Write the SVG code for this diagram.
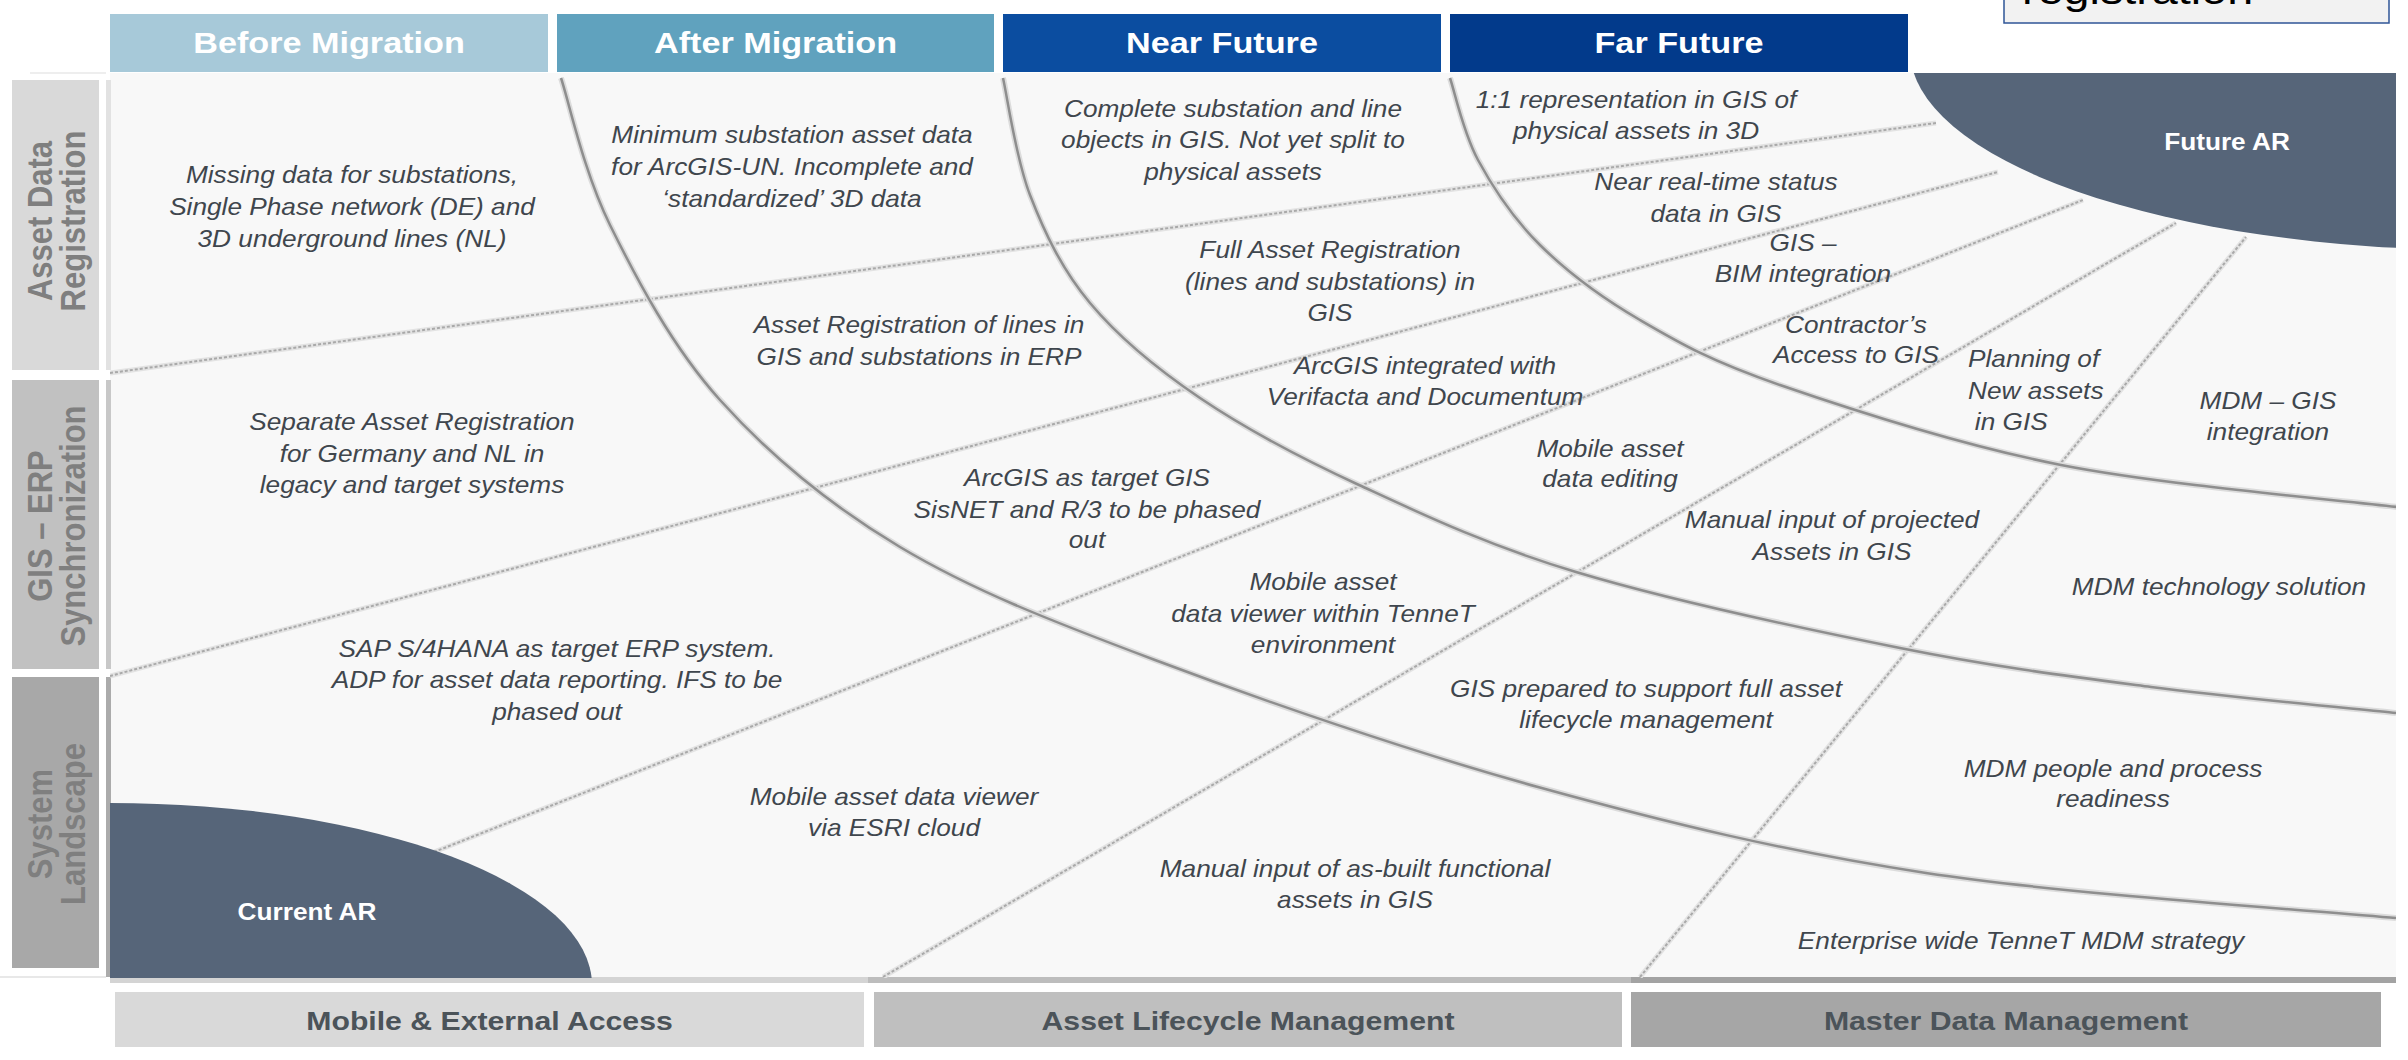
<svg xmlns="http://www.w3.org/2000/svg" width="2408" height="1060" viewBox="0 0 2408 1060">
  <style>
    .hd { font: bold 30px "Liberation Sans", Arial, sans-serif; fill: #ffffff; text-anchor: middle; }
    .rl { font: bold 31px "Liberation Sans", Arial, sans-serif; fill: #7f7f7f; text-anchor: middle; }
    .bt { font: bold 26.5px "Liberation Sans", Arial, sans-serif; fill: #4b5359; text-anchor: middle; }
    .tx { font: italic 23px "Liberation Sans", Arial, sans-serif; fill: #3f464d; text-anchor: middle; }
    .txl { font: italic 23px "Liberation Sans", Arial, sans-serif; fill: #3f464d; text-anchor: start; }
    .ar { font: bold 23px "Liberation Sans", Arial, sans-serif; fill: #ffffff; text-anchor: middle; }
    .blob { fill: #566579; }
    .ray-halo { fill: none; stroke: #e3e3e3; stroke-width: 5; }
    .ray { fill: none; stroke: #a9a9a9; stroke-width: 2; stroke-dasharray: 3 2; }
    .arc-halo { fill: none; stroke: #dcdcdc; stroke-width: 6; }
    .arc { fill: none; stroke: #8e8e8e; stroke-width: 2.5; }
  </style>
  <defs>
    <clipPath id="panelClip">
      <rect x="110" y="73" width="2286" height="905"/>
    </clipPath>
  </defs>

  <rect x="0" y="0" width="2408" height="1060" fill="#ffffff"/>

  <!-- caption box clipped at the top edge -->
  <g id="caption-box">
    <rect x="2004" y="-10" width="385" height="33" fill="#f2f2f2" stroke="#2f5597" stroke-width="1.5"/>
    <text transform="translate(2022 3.5) scale(1.14 1)" x="0" y="0" font-family="'Liberation Sans', Arial, sans-serif" font-size="41" fill="#000000">registration</text>
  </g>

  <!-- main panel -->
  <g id="panel">
    <rect x="110" y="73" width="2286" height="905" fill="#f8f8f8"/>
    <rect x="106" y="80" width="5" height="290" fill="#e2e2e2"/>
    <rect x="106" y="380" width="5" height="289" fill="#c8c8c8"/>
    <rect x="106" y="677" width="5" height="300" fill="#ababab"/>
    <rect x="110" y="977" width="758" height="6" fill="#d4d4d4"/>
    <rect x="868" y="977" width="763" height="6" fill="#bdbdbd"/>
    <rect x="1631" y="977" width="765" height="6" fill="#a3a3a3"/>
    <line x1="30" y1="73" x2="106" y2="73" stroke="#e8e8e8" stroke-width="1.5"/>
    <line x1="0" y1="977" x2="106" y2="977" stroke="#e0e0e0" stroke-width="1.5"/>
  </g>

  <!-- grid: rays and arcs -->
  <g id="connectors" clip-path="url(#panelClip)">
    <g id="rays">
      <path class="ray-halo" d="M110,373 L1936,123"/>
      <path class="ray" d="M110,373 L1936,123"/>
      <path class="ray-halo" d="M110,676 L1998,172"/>
      <path class="ray" d="M110,676 L1998,172"/>
      <path class="ray-halo" d="M434,852 L2083,200"/>
      <path class="ray" d="M434,852 L2083,200"/>
      <path class="ray-halo" d="M883,977 L2176,223"/>
      <path class="ray" d="M883,977 L2176,223"/>
      <path class="ray-halo" d="M1640,977 L2246,237"/>
      <path class="ray" d="M1640,977 L2246,237"/>
    </g>
    <g id="arcs">
      <path class="arc-halo" d="M561,78 C569.2,102.5 583.5,171.3 610,225 C636.5,278.7 671.7,346.3 720,400 C768.3,453.7 827.5,503.7 900,547 C972.5,590.3 1048.7,620 1155,660 C1261.3,700 1409.5,751.5 1538,787 C1666.5,822.5 1783,851.2 1926,873 C2069,894.8 2317.7,910.5 2396,918"/>
      <path class="arc" d="M561,78 C569.2,102.5 583.5,171.3 610,225 C636.5,278.7 671.7,346.3 720,400 C768.3,453.7 827.5,503.7 900,547 C972.5,590.3 1048.7,620 1155,660 C1261.3,700 1409.5,751.5 1538,787 C1666.5,822.5 1783,851.2 1926,873 C2069,894.8 2317.7,910.5 2396,918"/>
      <path class="arc-halo" d="M1003,78 C1007.5,97.5 1015.5,157.5 1030,195 C1044.5,232.5 1061.7,269.2 1090,303 C1118.3,336.8 1155.2,367.7 1200,398 C1244.8,428.3 1296.3,456 1359,485 C1421.7,514 1485.8,544.8 1576,572 C1666.2,599.2 1804.2,628.8 1900,648 C1995.8,667.2 2068.3,676.2 2151,687 C2233.7,697.8 2355.2,708.7 2396,713"/>
      <path class="arc" d="M1003,78 C1007.5,97.5 1015.5,157.5 1030,195 C1044.5,232.5 1061.7,269.2 1090,303 C1118.3,336.8 1155.2,367.7 1200,398 C1244.8,428.3 1296.3,456 1359,485 C1421.7,514 1485.8,544.8 1576,572 C1666.2,599.2 1804.2,628.8 1900,648 C1995.8,667.2 2068.3,676.2 2151,687 C2233.7,697.8 2355.2,708.7 2396,713"/>
      <path class="arc-halo" d="M1450,78 C1454.7,91.7 1463,132.2 1478,160 C1493,187.8 1513,218.3 1540,245 C1567,271.7 1600,296.7 1640,320 C1680,343.3 1709.8,360.8 1780,385 C1850.2,409.2 1958.2,444.7 2061,465 C2163.8,485.3 2341,500 2397,507"/>
      <path class="arc" d="M1450,78 C1454.7,91.7 1463,132.2 1478,160 C1493,187.8 1513,218.3 1540,245 C1567,271.7 1600,296.7 1640,320 C1680,343.3 1709.8,360.8 1780,385 C1850.2,409.2 1958.2,444.7 2061,465 C2163.8,485.3 2341,500 2397,507"/>
    </g>
  </g>

  <!-- state blobs -->
  <g id="future-ar">
    <ellipse class="blob" cx="2480" cy="50" rx="570" ry="200" clip-path="url(#panelClip)"/>
    <text class="ar" transform="translate(2227 0) scale(1.14 1)" x="0" y="150">Future AR</text>
  </g>
  <g id="current-ar">
    <ellipse class="blob" cx="110" cy="985" rx="482" ry="182" clip-path="url(#panelClip)"/>
    <text class="ar" transform="translate(307 0) scale(1.14 1)" x="0" y="920">Current AR</text>
  </g>

  <!-- column headers -->
  <g id="hdr-before">
    <rect x="110" y="14" width="438" height="58" fill="#a7c9d9"/>
    <text class="hd" transform="translate(329 0) scale(1.14 1)" x="0" y="53.5">Before Migration</text>
  </g>
  <g id="hdr-after">
    <rect x="557" y="14" width="437" height="58" fill="#60a2be"/>
    <text class="hd" transform="translate(775.5 0) scale(1.14 1)" x="0" y="53.5">After Migration</text>
  </g>
  <g id="hdr-near">
    <rect x="1003" y="14" width="438" height="58" fill="#0b4da0"/>
    <text class="hd" transform="translate(1222 0) scale(1.14 1)" x="0" y="53.5">Near Future</text>
  </g>
  <g id="hdr-far">
    <rect x="1450" y="14" width="458" height="58" fill="#023a8b"/>
    <text class="hd" transform="translate(1679 0) scale(1.14 1)" x="0" y="53.5">Far Future</text>
  </g>

  <!-- row labels -->
  <g id="row-asset-data">
    <rect x="12" y="80" width="87" height="290" fill="#d9d9d9"/>
    <text class="rl" transform="translate(55.5 221) scale(1.12 1) rotate(-90)"><tspan x="0" y="-3">Asset Data</tspan><tspan x="0" y="26.5">Registration</tspan></text>
  </g>
  <g id="row-gis-erp">
    <rect x="12" y="380" width="87" height="289" fill="#c1c1c1"/>
    <text class="rl" transform="translate(55.5 526) scale(1.12 1) rotate(-90)"><tspan x="0" y="-3">GIS – ERP</tspan><tspan x="0" y="26.5">Synchronization</tspan></text>
  </g>
  <g id="row-system">
    <rect x="12" y="677" width="87" height="291" fill="#a8a8a8"/>
    <text class="rl" transform="translate(55.5 824) scale(1.12 1) rotate(-90)"><tspan x="0" y="-3">System</tspan><tspan x="0" y="26.5">Landscape</tspan></text>
  </g>

  <!-- bottom capability bars -->
  <g id="bar-mobile">
    <rect x="115" y="992" width="749" height="55" fill="#d9d9d9"/>
    <text class="bt" transform="translate(489.5 0) scale(1.14 1)" x="0" y="1030.5">Mobile &amp; External Access</text>
  </g>
  <g id="bar-alm">
    <rect x="874" y="992" width="748" height="55" fill="#bfbfbf"/>
    <text class="bt" transform="translate(1248 0) scale(1.14 1)" x="0" y="1030.5">Asset Lifecycle Management</text>
  </g>
  <g id="bar-mdm">
    <rect x="1631" y="992" width="750" height="55" fill="#a6a6a6"/>
    <text class="bt" transform="translate(2006 0) scale(1.14 1)" x="0" y="1030.5">Master Data Management</text>
  </g>

  <!-- cell texts -->
  <g id="t-missing" class="tx" transform="translate(352 0) scale(1.14 1)">
    <text><tspan x="0" y="183">Missing data for substations,</tspan><tspan x="0" y="215">Single Phase network (DE) and</tspan><tspan x="0" y="247">3D underground lines (NL)</tspan></text>
  </g>
  <g id="t-minimum" class="tx" transform="translate(792 0) scale(1.14 1)">
    <text><tspan x="0" y="143">Minimum substation asset data</tspan><tspan x="0" y="175">for ArcGIS-UN. Incomplete and</tspan><tspan x="0" y="207">‘standardized’ 3D data</tspan></text>
  </g>
  <g id="t-ar-lines" class="tx" transform="translate(919 0) scale(1.14 1)">
    <text><tspan x="0" y="333">Asset Registration of lines in</tspan><tspan x="0" y="365">GIS and substations in ERP</tspan></text>
  </g>
  <g id="t-complete" class="tx" transform="translate(1233 0) scale(1.14 1)">
    <text><tspan x="0" y="117">Complete substation and line</tspan><tspan x="0" y="148">objects in GIS. Not yet split to</tspan><tspan x="0" y="180">physical assets</tspan></text>
  </g>
  <g id="t-one-to-one" class="tx" transform="translate(1636 0) scale(1.14 1)">
    <text><tspan x="0" y="108">1:1 representation in GIS of</tspan><tspan x="0" y="139">physical assets in 3D</tspan></text>
  </g>
  <g id="t-realtime" class="tx" transform="translate(1716 0) scale(1.14 1)">
    <text><tspan x="0" y="190">Near real-time status</tspan><tspan x="0" y="222">data in GIS</tspan></text>
  </g>
  <g id="t-bim" class="tx" transform="translate(1803 0) scale(1.14 1)">
    <text><tspan x="0" y="251">GIS –</tspan><tspan x="0" y="282">BIM integration</tspan></text>
  </g>
  <g id="t-full-ar" class="tx" transform="translate(1330 0) scale(1.14 1)">
    <text><tspan x="0" y="258">Full Asset Registration</tspan><tspan x="0" y="290">(lines and substations) in</tspan><tspan x="0" y="321">GIS</tspan></text>
  </g>
  <g id="t-contractor" class="tx" transform="translate(1856 0) scale(1.14 1)">
    <text><tspan x="0" y="333">Contractor’s</tspan><tspan x="0" y="363">Access to GIS</tspan></text>
  </g>
  <g id="t-verifacta" class="tx" transform="translate(1425 0) scale(1.14 1)">
    <text><tspan x="0" y="374">ArcGIS integrated with</tspan><tspan x="0" y="405">Verifacta and Documentum</tspan></text>
  </g>
  <g id="t-separate" class="tx" transform="translate(412 0) scale(1.14 1)">
    <text><tspan x="0" y="430">Separate Asset Registration</tspan><tspan x="0" y="462">for Germany and NL in</tspan><tspan x="0" y="493">legacy and target systems</tspan></text>
  </g>
  <g id="t-arcgis-target" class="tx" transform="translate(1087 0) scale(1.14 1)">
    <text><tspan x="0" y="486">ArcGIS as target GIS</tspan><tspan x="0" y="518">SisNET and R/3 to be phased</tspan><tspan x="0" y="548">out</tspan></text>
  </g>
  <g id="t-mobile-edit" class="tx" transform="translate(1610 0) scale(1.14 1)">
    <text><tspan x="0" y="457">Mobile asset</tspan><tspan x="0" y="487">data editing</tspan></text>
  </g>
  <g id="t-projected" class="tx" transform="translate(1832 0) scale(1.14 1)">
    <text><tspan x="0" y="528">Manual input of projected</tspan><tspan x="0" y="560">Assets in GIS</tspan></text>
  </g>
  <g id="t-planning" class="txl" transform="translate(1968 0) scale(1.14 1)">
    <text><tspan x="0" y="367">Planning of</tspan><tspan x="0" y="399">New assets</tspan><tspan x="6" y="430">in GIS</tspan></text>
  </g>
  <g id="t-mdm-gis" class="tx" transform="translate(2268 0) scale(1.14 1)">
    <text><tspan x="0" y="409">MDM – GIS</tspan><tspan x="0" y="440">integration</tspan></text>
  </g>
  <g id="t-mdm-tech" class="tx" transform="translate(2219 0) scale(1.14 1)">
    <text x="0" y="595">MDM technology solution</text>
  </g>
  <g id="t-mobile-viewer" class="tx" transform="translate(1323 0) scale(1.14 1)">
    <text><tspan x="0" y="590">Mobile asset</tspan><tspan x="0" y="622">data viewer within TenneT</tspan><tspan x="0" y="653">environment</tspan></text>
  </g>
  <g id="t-sap" class="tx" transform="translate(557 0) scale(1.14 1)">
    <text><tspan x="0" y="657">SAP S/4HANA as target ERP system.</tspan><tspan x="0" y="688">ADP for asset data reporting. IFS to be</tspan><tspan x="0" y="720">phased out</tspan></text>
  </g>
  <g id="t-lifecycle" class="tx" transform="translate(1646 0) scale(1.14 1)">
    <text><tspan x="0" y="697">GIS prepared to support full asset</tspan><tspan x="0" y="728">lifecycle management</tspan></text>
  </g>
  <g id="t-esri" class="tx" transform="translate(894 0) scale(1.14 1)">
    <text><tspan x="0" y="805">Mobile asset data viewer</tspan><tspan x="0" y="836">via ESRI cloud</tspan></text>
  </g>
  <g id="t-asbuilt" class="tx" transform="translate(1355 0) scale(1.14 1)">
    <text><tspan x="0" y="877">Manual input of as-built functional</tspan><tspan x="0" y="908">assets in GIS</tspan></text>
  </g>
  <g id="t-mdm-people" class="tx" transform="translate(2113 0) scale(1.14 1)">
    <text><tspan x="0" y="777">MDM people and process</tspan><tspan x="0" y="807">readiness</tspan></text>
  </g>
  <g id="t-mdm-strategy" class="tx" transform="translate(2021 0) scale(1.14 1)">
    <text x="0" y="949">Enterprise wide TenneT MDM strategy</text>
  </g>
</svg>
